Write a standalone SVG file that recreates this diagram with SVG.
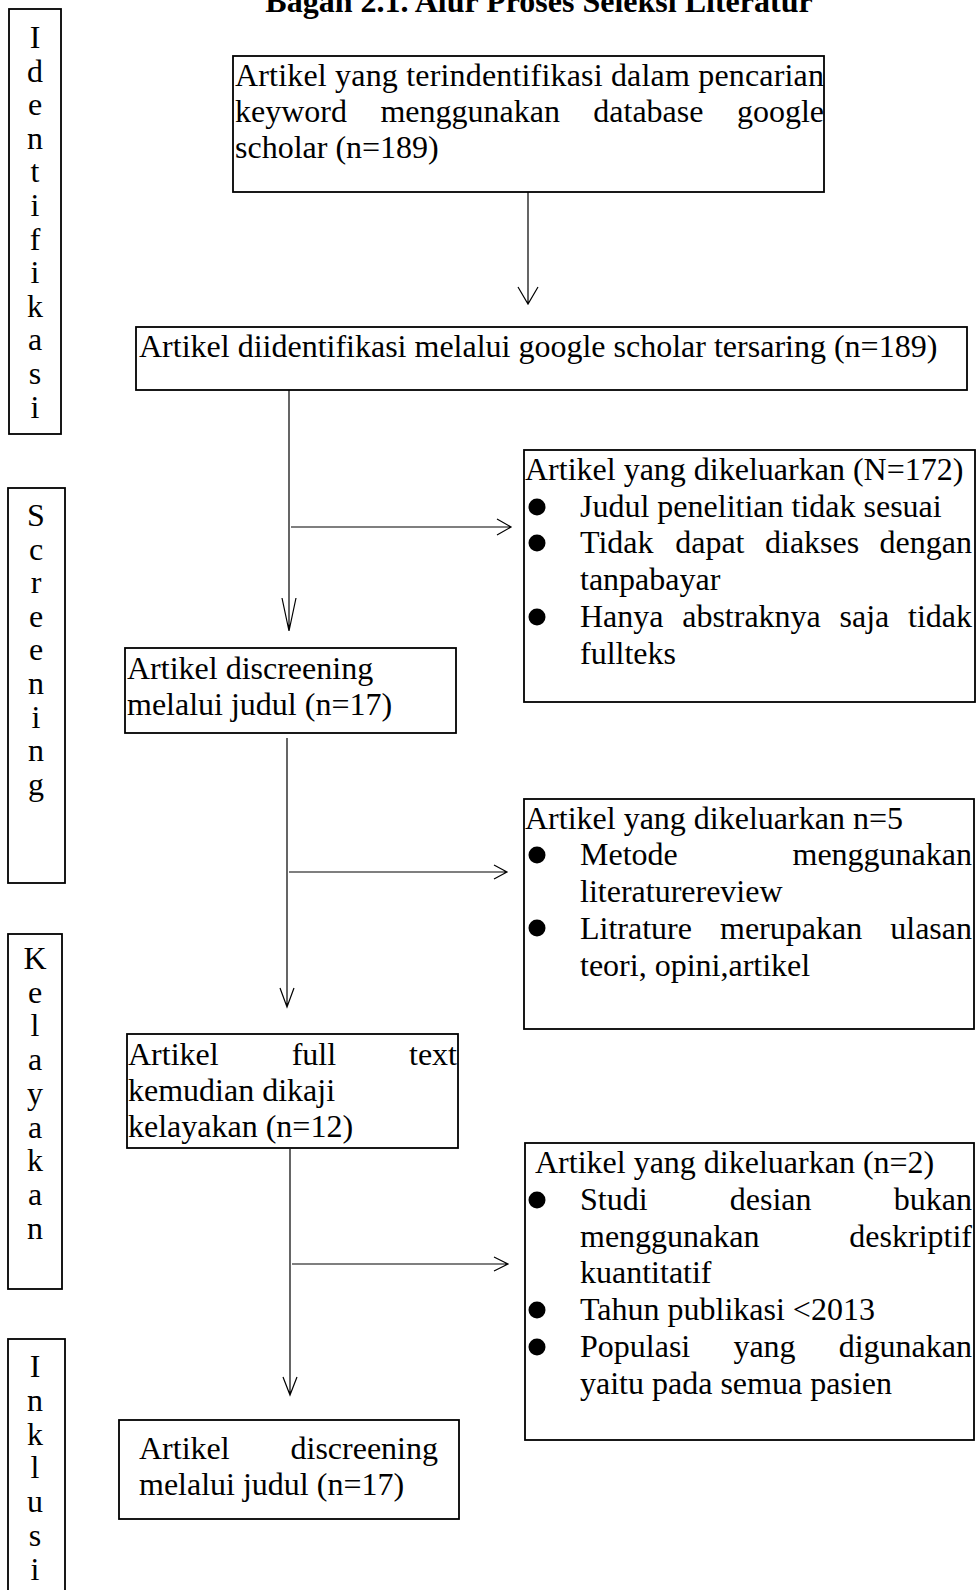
<svg xmlns="http://www.w3.org/2000/svg" width="977" height="1590" viewBox="0 0 977 1590">
<style>
text{font-family:"Liberation Serif","Times New Roman",serif;font-size:32px;fill:#000}
.title{font-weight:bold}
.box{fill:#fff;stroke:#000;stroke-width:1.8}
.lbl{text-anchor:middle}
.end{text-anchor:end}
.ln{fill:none;stroke:#000;stroke-width:1.2}
.bul{fill:#000}
</style>
<rect width="977" height="1590" fill="#fff"/>
<text class="title" x="539" y="12" text-anchor="middle">Bagan 2.1. Alur Proses Seleksi Literatur</text>

<g id="stage-identifikasi">
<rect class="box" x="9" y="9" width="52" height="425"/>
<text class="lbl"><tspan x="35" y="48">I</tspan><tspan x="35" y="81.6">d</tspan><tspan x="35" y="115.2">e</tspan><tspan x="35" y="148.8">n</tspan><tspan x="35" y="182.4">t</tspan><tspan x="35" y="216">i</tspan><tspan x="35" y="249.6">f</tspan><tspan x="35" y="283.2">i</tspan><tspan x="35" y="316.8">k</tspan><tspan x="35" y="350.4">a</tspan><tspan x="35" y="384">s</tspan><tspan x="35" y="417.6">i</tspan></text>
</g>
<g id="stage-screening">
<rect class="box" x="8" y="488" width="57" height="395"/>
<text class="lbl"><tspan x="36" y="526">S</tspan><tspan x="36" y="559.6">c</tspan><tspan x="36" y="593.2">r</tspan><tspan x="36" y="626.8">e</tspan><tspan x="36" y="660.4">e</tspan><tspan x="36" y="694">n</tspan><tspan x="36" y="727.6">i</tspan><tspan x="36" y="761.2">n</tspan><tspan x="36" y="794.8">g</tspan></text>
</g>
<g id="stage-kelayakan">
<rect class="box" x="8" y="934" width="54" height="355"/>
<text class="lbl"><tspan x="35" y="969">K</tspan><tspan x="35" y="1002.7">e</tspan><tspan x="35" y="1036.4">l</tspan><tspan x="35" y="1070.1">a</tspan><tspan x="35" y="1103.8">y</tspan><tspan x="35" y="1137.5">a</tspan><tspan x="35" y="1171.2">k</tspan><tspan x="35" y="1204.9">a</tspan><tspan x="35" y="1238.6">n</tspan></text>
</g>
<g id="stage-inklusi">
<rect class="box" x="8" y="1339" width="57" height="270"/>
<text class="lbl"><tspan x="35" y="1377">I</tspan><tspan x="35" y="1410.8">n</tspan><tspan x="35" y="1444.6">k</tspan><tspan x="35" y="1478.4">l</tspan><tspan x="35" y="1512.2">u</tspan><tspan x="35" y="1546">s</tspan><tspan x="35" y="1579.8">i</tspan></text>
</g>

<g id="connectors">
<path class="ln" d="M528 192V304M518 287L528 304L538 287"/>
<path class="ln" d="M289 390V631M282 598L289 631L296 598"/>
<path class="ln" d="M291 527H511M497 519L511 527L497 535"/>
<path class="ln" d="M287 738V1007M280 988L287 1007L294 988"/>
<path class="ln" d="M289 872H507M494 865L507 872L494 879"/>
<path class="ln" d="M290 1149V1395M283 1377L290 1395L297 1377"/>
<path class="ln" d="M292 1264H508M494 1257L508 1264L494 1271"/>
</g>

<g id="n1">
<rect class="box" x="233" y="56" width="591" height="136"/>
<text x="235" y="86" textLength="589" lengthAdjust="spacing">Artikel yang terindentifikasi dalam pencarian</text>
<text y="122"><tspan x="235">keyword</tspan><tspan x="380.4">menggunakan</tspan><tspan x="593.3">database</tspan></text>
<text class="end" x="824" y="122">google</text>
<text x="235" y="158">scholar (n=189)</text>
</g>

<g id="n2">
<rect class="box" x="136" y="327" width="831" height="63"/>
<text x="139" y="357">Artikel diidentifikasi melalui google scholar tersaring (n=189)</text>
</g>

<g id="n3">
<rect class="box" x="524" y="450" width="451" height="252"/>
<text x="525" y="480">Artikel yang dikeluarkan (N=172)</text>
<circle class="bul" cx="537" cy="507" r="8.5"/>
<text x="580" y="517">Judul penelitian tidak sesuai</text>
<circle class="bul" cx="537" cy="543" r="8.5"/>
<text y="553"><tspan x="580">Tidak</tspan><tspan x="675.2">dapat</tspan><tspan x="765">diakses</tspan></text>
<text class="end" x="972" y="553">dengan</text>
<text x="580" y="590">tanpabayar</text>
<circle class="bul" cx="537" cy="617" r="8.5"/>
<text y="627"><tspan x="580">Hanya</tspan><tspan x="682.2">abstraknya</tspan><tspan x="839.5">saja</tspan></text>
<text class="end" x="972" y="627">tidak</text>
<text x="580" y="664">fullteks</text>
</g>

<g id="n4">
<rect class="box" x="125" y="648" width="331" height="85"/>
<text x="127" y="679">Artikel discreening</text>
<text x="127" y="715">melalui judul (n=17)</text>
</g>

<g id="n5">
<rect class="box" x="524" y="799" width="450" height="230"/>
<text x="525" y="829">Artikel yang dikeluarkan n=5</text>
<circle class="bul" cx="537" cy="855" r="8.5"/>
<text x="580" y="865">Metode</text>
<text class="end" x="972" y="865">menggunakan</text>
<text x="580" y="902">literaturereview</text>
<circle class="bul" cx="537" cy="928" r="8.5"/>
<text y="939"><tspan x="580">Litrature</tspan><tspan x="720">merupakan</tspan></text>
<text class="end" x="972" y="939">ulasan</text>
<text x="580" y="976">teori, opini,artikel</text>
</g>

<g id="n6">
<rect class="box" x="127" y="1034" width="331" height="114"/>
<text y="1065"><tspan x="128">Artikel</tspan><tspan x="291.7">full</tspan></text>
<text class="end" x="457" y="1065">text</text>
<text x="128" y="1101">kemudian dikaji</text>
<text x="128" y="1137">kelayakan (n=12)</text>
</g>

<g id="n7">
<rect class="box" x="525" y="1143" width="449" height="297"/>
<text x="535" y="1173">Artikel yang dikeluarkan (n=2)</text>
<circle class="bul" cx="537" cy="1200" r="8.5"/>
<text y="1210"><tspan x="580">Studi</tspan><tspan x="729.8">desian</tspan></text>
<text class="end" x="972" y="1210">bukan</text>
<text x="580" y="1247">menggunakan</text>
<text class="end" x="972" y="1247">deskriptif</text>
<text x="580" y="1283">kuantitatif</text>
<circle class="bul" cx="537" cy="1310" r="8.5"/>
<text x="580" y="1320">Tahun publikasi &lt;2013</text>
<circle class="bul" cx="537" cy="1347" r="8.5"/>
<text y="1357"><tspan x="580">Populasi</tspan><tspan x="733.4">yang</tspan></text>
<text class="end" x="972" y="1357">digunakan</text>
<text x="580" y="1394">yaitu pada semua pasien</text>
</g>

<g id="n8">
<rect class="box" x="119" y="1420" width="340" height="99"/>
<text x="139" y="1459">Artikel</text>
<text class="end" x="438" y="1459">discreening</text>
<text x="139" y="1495">melalui judul (n=17)</text>
</g>
</svg>
